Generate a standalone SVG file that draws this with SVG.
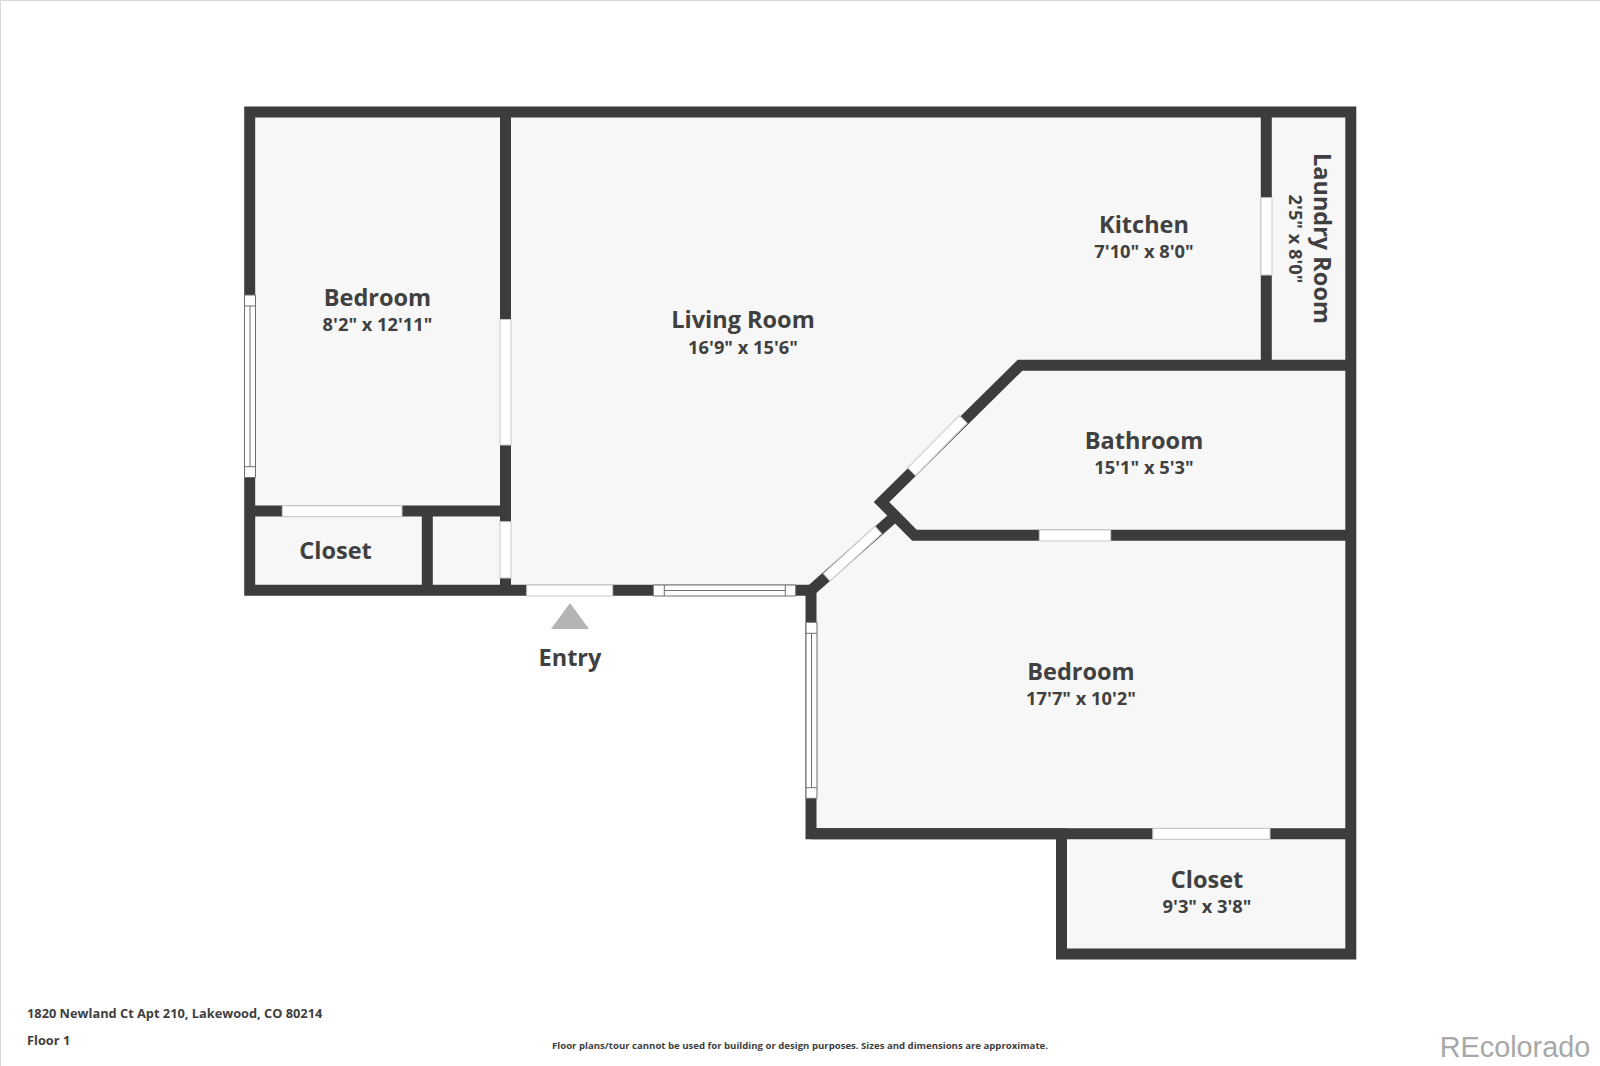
<svg xmlns="http://www.w3.org/2000/svg" width="1600" height="1066" viewBox="0 0 1600 1066">
<style>
text{font-family:"Open Sans","Noto Sans",sans-serif;fill:#404040;text-anchor:middle}
.n{font-size:23.500px;font-weight:700}
.d{font-size:18.300px;font-weight:700}
.f{font-size:12.800px;font-weight:700;text-anchor:start}
.w{fill:none;stroke:#3c3c3c;stroke-width:11;stroke-linejoin:miter}
.o{fill:#fff;stroke:#c9c9c9;stroke-width:1}
.g{fill:none;stroke:#6e6e6e;stroke-width:1}
</style>
<rect width="1600" height="1066" fill="#fff"/>
<path d="M.5 1066V.5H1600" fill="none" stroke="#d8d8d8"/>
<path id="floor" fill="#f7f7f7" d="M250 112H1351V954H1061.500V834H811V590H250Z"/>
<g id="connectors">
<path class="w" d="M249.700 590.300V112H1350.800V954H1061.500V833.700H811V590.300Z"/>
<path class="w" d="M505.500 112V590M249.700 511H505.500M427.300 511V590M1266.300 112V365.300M1350.800 365.300H1020L881.500 502L914.500 535.300H1350.800M811 590.300L893 518M811 833.700H1350.800"/>
</g>
<g id="openings">
<rect class="o" x="282.300" y="505.700" width="119.700" height="11"/>
<rect class="o" x="500" y="319.500" width="11" height="125.500"/>
<rect class="o" x="500" y="521.700" width="11" height="56.300"/>
<rect class="o" x="526.700" y="585" width="86" height="11"/>
<rect class="o" x="1261" y="197.700" width="11" height="77.300"/>
<rect class="o" x="1039.300" y="530" width="71.400" height="11"/>
<rect class="o" x="1152.800" y="828.300" width="117.200" height="11"/>
<rect class="o" transform="translate(963.300 419.300) rotate(134.600)" x="0" y="-5.500" width="73.600" height="11"/>
<rect class="o" transform="translate(826.700 577.300) rotate(-42.500)" x="0" y="-5" width="70" height="10"/>
</g>
<g id="windows">
<g id="window-left"><rect x="244.500" y="295" width="11" height="182.500" fill="#fff"/><path class="g" d="M244.500 295h11v182.500h-11zM244.500 306h11M244.500 466.700h11M250 306v160.700"/></g>
<g id="window-bottom"><rect x="653.300" y="585" width="142.400" height="11" fill="#fff"/><path class="g" d="M653.300 585h142.400v11h-142.400zM664.300 585v11M785.300 585v11M664.300 590.500h121"/></g>
<g id="window-right"><rect x="806" y="622.300" width="11" height="176" fill="#fff"/><path class="g" d="M806 622.300h11v176h-11zM806 633.300h11M806 787.700h11M811.500 633.300v154.400"/></g>
</g>
<g id="room-bedroom-1"><text class="n" x="377.500" y="305.500">Bedroom</text><text class="d" x="377.500" y="331">8'2" x 12'11"</text></g>
<g id="room-closet-1"><text class="n" x="335.500" y="558.500">Closet</text></g>
<g id="room-living"><text class="n" x="743" y="328">Living Room</text><text class="d" x="743" y="353.500">16'9" x 15'6"</text></g>
<g id="room-kitchen"><text class="n" x="1144" y="232.500">Kitchen</text><text class="d" x="1144" y="258">7'10" x 8'0"</text></g>
<g id="room-laundry"><text class="n" transform="translate(1314 238.500) rotate(90)">Laundry Room</text><text class="d" transform="translate(1289 239) rotate(90)">2'5" x 8'0"</text></g>
<g id="room-bathroom"><text class="n" x="1144" y="449">Bathroom</text><text class="d" x="1144" y="474">15'1" x 5'3"</text></g>
<g id="room-bedroom-2"><text class="n" x="1081" y="680">Bedroom</text><text class="d" x="1081" y="705">17'7" x 10'2"</text></g>
<g id="room-closet-2"><text class="n" x="1207" y="888">Closet</text><text class="d" x="1207" y="913">9'3" x 3'8"</text></g>
<g id="entry"><path d="M570 603L589 629H551Z" fill="#b4b4b4"/><text class="n" x="570" y="666">Entry</text></g>
<g id="footer">
<text class="f" x="27" y="1018">1820 Newland Ct Apt 210, Lakewood, CO 80214</text>
<text class="f" x="27" y="1045">Floor 1</text>
<text x="800" y="1049" style="font-size:9.600px;font-weight:700">Floor plans/tour cannot be used for building or design purposes. Sizes and dimensions are approximate.</text>
<text x="1515" y="1057" style="font-family:'Liberation Sans',Arial,sans-serif;font-size:28.800px;fill:#a8a8a8">REcolorado</text>
</g>
</svg>
